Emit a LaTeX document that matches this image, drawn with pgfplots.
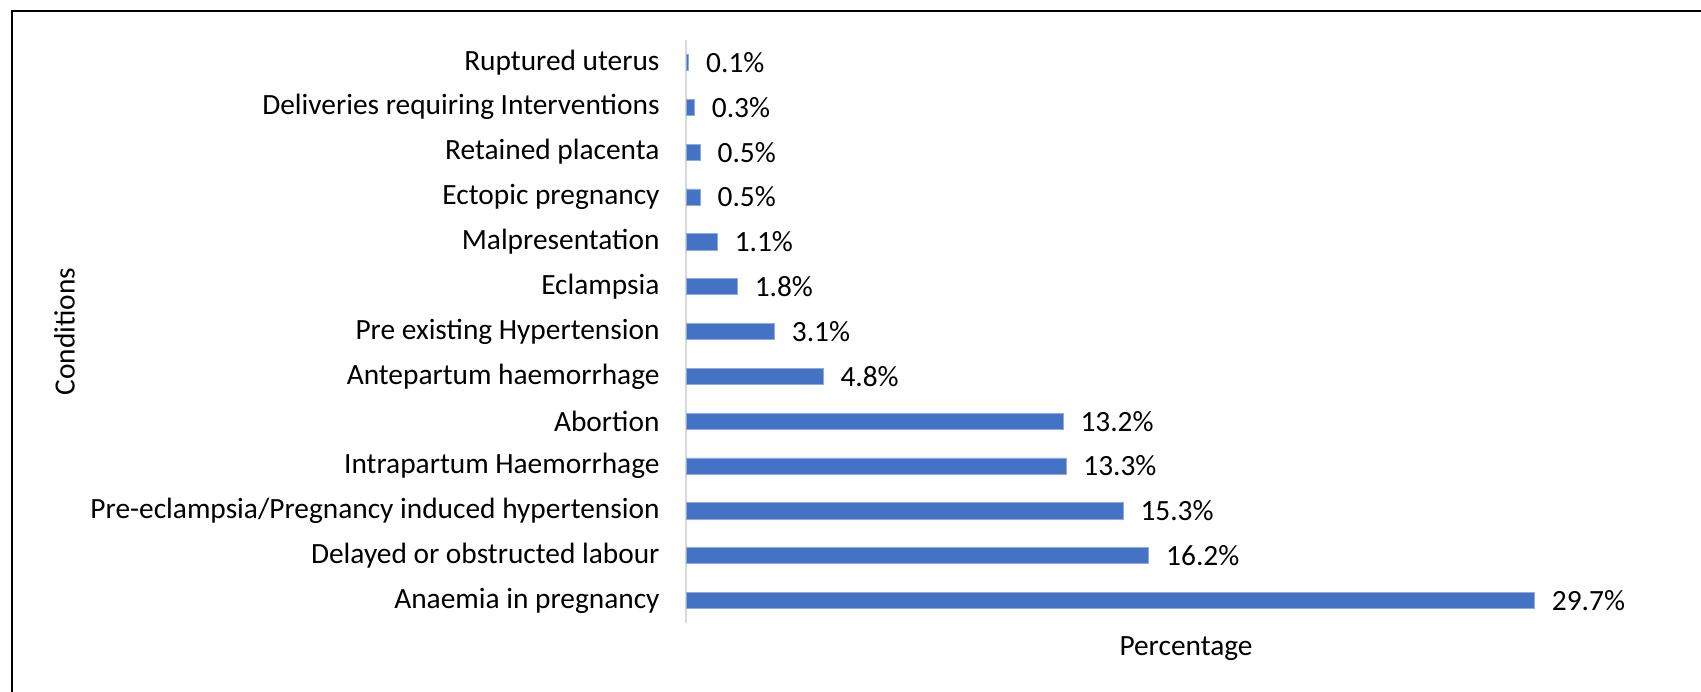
\documentclass[border=0pt]{standalone}
\usepackage{pgfplots}
\pgfplotsset{compat=1.18}
\usepackage{pgfplotstable}
\usepackage{fontspec}
\setmainfont{Carlito}
\definecolor{barblue}{HTML}{4472C4}
\definecolor{axgray}{HTML}{D9D9D9}
\pgfplotstableread{
y val
12 0.1
11 0.3
10 0.5
9 0.5
8 1.1
7 1.8
6 3.1
5 4.8
4 13.2
3 13.3
2 15.3
1 16.2
0 29.7
}\datatable
\begin{document}
\begin{tikzpicture}[font=\fontsize{11.75}{14.1}\selectfont]
\useasboundingbox (0,0) rectangle (680.4pt,-276.4pt);
\draw[line width=0.8pt] (4.8pt,-290pt) -- (4.8pt,-4.4pt) -- (690pt,-4.4pt);
\begin{axis}[
  at={(274.4pt,-249.2pt)}, anchor=south west,
  scale only axis, width=400pt, height=233.2pt,
  xmin=0, xmax=35, ymin=-0.5, ymax=12.5,
  xbar, bar width=0.36,
  hide x axis,
  axis y line*=left,
  y axis line style={draw=axgray, line width=0.8pt, -},
  ytick={0,...,12},
  yticklabels={Anaemia in pregnancy,Delayed or obstructed labour,Pre-eclampsia/Pregnancy induced hypertension,Intrapartum Haemorrhage,Abortion,Antepartum haemorrhage,Pre existing Hypertension,Eclampsia,Malpresentation,Ectopic pregnancy,Retained placenta,Deliveries requiring Interventions,Ruptured uterus},
  major tick length=0pt,
  y tick label style={anchor=east, inner sep=0pt, xshift=-10.4pt},
  /pgf/number format/assume math mode=true,
  point meta=explicit,
  nodes near coords={\pgfmathprintnumber[fixed,fixed zerofill,precision=1]{\pgfplotspointmeta}\%},
  nodes near coords style={anchor=west, inner sep=0pt, xshift=6.8pt, text=black},
  clip=false,
]
\addplot[fill=barblue, draw=barblue!60!white, line width=0.3pt] table[x=val, y=y, meta=val] {\datatable};
\node[anchor=center] at (axis description cs:0.5,0) [yshift=-10.4pt] {Percentage};
\end{axis}
\node[rotate=90] at (25.8pt,-132.6pt) {Conditions};
\end{tikzpicture}
\end{document}
